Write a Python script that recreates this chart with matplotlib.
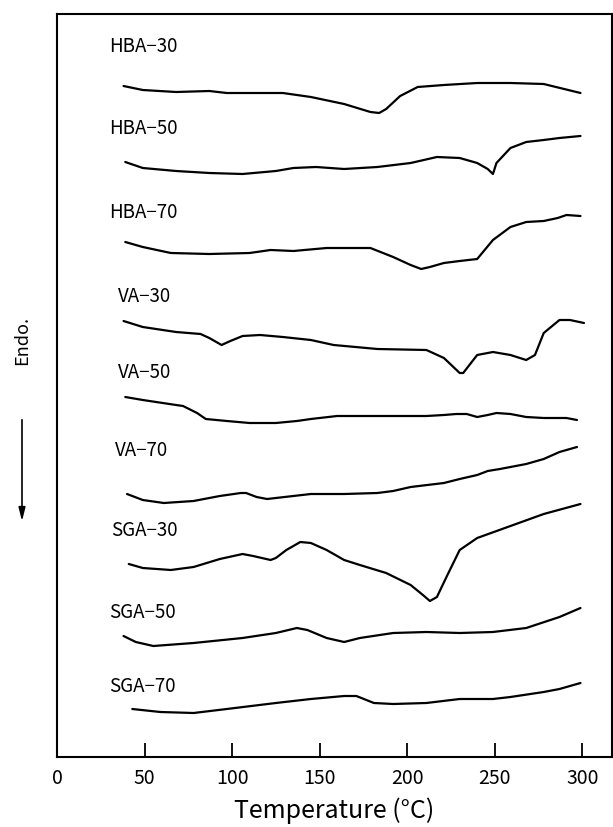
import matplotlib
matplotlib.use("Agg")
import matplotlib.pyplot as plt

plt.rcParams['font.family'] = ['Noto Sans CJK JP', 'DejaVu Sans']

# DSC traces, heat flow in arbitrary units (offset per sample)
names = ['HBA−30', 'HBA−50', 'HBA−70', 'VA−30', 'VA−50', 'VA−70',
         'SGA−30', 'SGA−50', 'SGA−70']

t_hba30 = [38, 49, 68, 87, 97, 129, 145, 164, 179, 184, 188, 196, 206, 221, 240, 259, 278, 299]
q_hba30 = [671, 667, 665, 666, 664, 664, 660, 653, 645, 644, 648, 661, 670, 672, 674, 674, 673, 664]

t_hba50 = [39, 49, 68, 87, 106, 125, 135, 148, 164, 183, 202, 217, 230, 240, 246, 249, 251, 259, 268, 278, 287, 299]
q_hba50 = [595, 589, 586, 584, 583, 586, 589, 590, 588, 590, 594, 600, 599, 594, 588, 583, 594, 609, 615, 617, 619, 621]

t_hba70 = [39, 49, 65, 87, 110, 122, 135, 154, 179, 192, 202, 208, 213, 221, 230, 240, 249, 259, 268, 278, 286, 291, 299]
q_hba70 = [515, 510, 504, 503, 504, 507, 506, 509, 509, 500, 492, 488, 490, 494, 496, 498, 517, 530, 535, 536, 539, 542, 541]

t_va30 = [38, 49, 68, 82, 87, 94, 99, 106, 116, 129, 145, 158, 183, 211, 221, 230, 232, 240, 249, 259, 268, 273, 278, 287, 293, 301]
q_va30 = [436, 430, 425, 423, 419, 412, 416, 421, 422, 420, 417, 412, 408, 407, 399, 384, 384, 402, 405, 402, 397, 402, 424, 437, 437, 434]

t_va50 = [39, 49, 68, 72, 80, 85, 97, 110, 125, 137, 145, 160, 183, 211, 221, 228, 234, 240, 246, 251, 259, 268, 278, 291, 297]
q_va50 = [360, 357, 352, 351, 344, 338, 336, 334, 334, 336, 338, 341, 341, 341, 342, 343, 343, 340, 342, 344, 343, 340, 339, 339, 337]

t_va70 = [40, 49, 61, 78, 93, 105, 108, 114, 120, 135, 145, 164, 183, 192, 202, 221, 230, 240, 246, 253, 268, 278, 287, 297]
q_va70 = [263, 257, 254, 256, 261, 264, 264, 260, 258, 261, 263, 263, 264, 266, 270, 274, 278, 282, 286, 288, 293, 298, 305, 310]

t_sga30 = [41, 49, 65, 78, 93, 106, 112, 122, 125, 131, 139, 145, 154, 164, 173, 188, 202, 209, 213, 217, 223, 230, 240, 259, 278, 299]
q_sga30 = [193, 189, 187, 190, 198, 203, 201, 197, 199, 207, 215, 214, 207, 197, 192, 184, 172, 162, 156, 160, 182, 207, 219, 231, 243, 253]

t_sga50 = [38, 45, 55, 78, 106, 125, 137, 143, 154, 164, 173, 192, 211, 230, 249, 268, 287, 299]
q_sga50 = [121, 115, 111, 114, 119, 124, 129, 127, 119, 115, 119, 124, 125, 124, 125, 129, 140, 149]

t_sga70 = [43, 59, 78, 97, 125, 145, 164, 171, 181, 192, 211, 230, 249, 259, 278, 287, 299]
q_sga70 = [48, 45, 44, 48, 54, 58, 61, 61, 54, 53, 54, 58, 58, 60, 65, 68, 74]

xticks = [0, 50, 100, 150, 200, 250, 300]

temps = [t_hba30, t_hba50, t_hba70, t_va30, t_va50, t_va70, t_sga30, t_sga50, t_sga70]
flows = [q_hba30, q_hba50, q_hba70, q_va30, q_va50, q_va70, q_sga30, q_sga50, q_sga70]

# where each sample name sits
label_x = [30, 30, 30, 35, 35, 33, 31, 30, 30]
label_y = [710, 629, 545, 460, 385, 306, 226, 145, 70]

fig = plt.figure(figsize=(6.13, 8.27), dpi=100)
ax = fig.add_axes([57 / 613, 70 / 827, 555 / 613, 743 / 827])

for t, q in zip(temps, flows):
    ax.plot(t, q, color='black', lw=1.6, solid_joinstyle='round', solid_capstyle='round')

for name, lx, ly in zip(names, label_x, label_y):
    ax.text(lx, ly, name, fontsize=13.5, ha='left', va='center')

ax.set_xlim(0, 317)
ax.set_ylim(0, 743)
ax.set_xticks(xticks)
ax.set_yticks([])
ax.tick_params(axis='x', direction='in', length=10, width=1.3, pad=8, labelsize=14)
for s in ax.spines.values():
    s.set_linewidth(1.5)
ax.set_xlabel('Temperature (°C)', fontsize=18, labelpad=6)

fig.text(22 / 613, 1 - 340 / 827, 'Endo.', rotation=90, ha='center', va='center', fontsize=13)
fig.add_artist(matplotlib.patches.FancyArrowPatch(
    (22 / 613, 1 - 417 / 827), (22 / 613, 1 - 524 / 827),
    transform=fig.transFigure, arrowstyle='-|>,head_length=0.8,head_width=0.2',
    color='black', lw=1.2, mutation_scale=10))

fig.savefig('out.png', dpi=100)
